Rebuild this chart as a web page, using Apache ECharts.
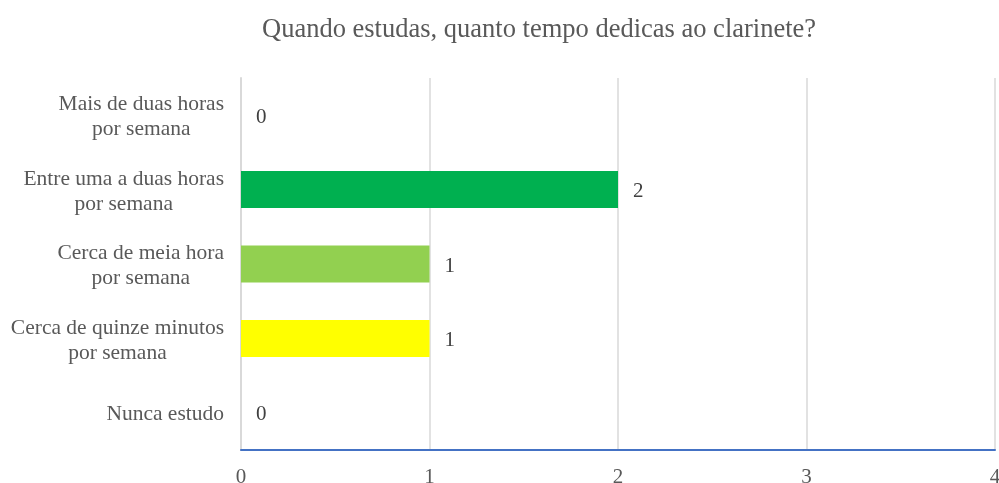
<!DOCTYPE html>
<html>
<head>
<meta charset="utf-8">
<script src="https://cdn.jsdelivr.net/npm/echarts@6/dist/echarts.min.js"></script>
<style>
  html, body { margin: 0; padding: 0; background: #fff; }
  #main { width: 999px; height: 483px; }
</style>
</head>
<body>
<div id="main"></div>
<script>
const titleText = 'Quando estudas, quanto tempo dedicas ao clarinete?'
// bottom to top, as the category axis draws them
const categories = [
  'Nunca estudo',
  'Cerca de quinze minutos\npor semana',
  'Cerca de meia hora\npor semana',
  'Entre uma a duas horas\npor semana',
  'Mais de duas horas\npor semana'
]
const counts = [0, 1, 1, 2, 0]
const barColors = ['#C00000', '#FFFF00', '#92D050', '#00B050', '#0070C0']
const xTicks = [0, 1, 2, 3, 4]

const font = '"Liberation Serif", "Times New Roman", serif'
const grey = '#595959'

const chart = echarts.init(document.getElementById('main'))
chart.setOption({
  backgroundColor: '#fff',
  animation: false,
  title: {
    text: titleText,
    left: 257,
    top: 12,
    textStyle: { fontFamily: font, fontSize: 26.5, fontWeight: 'normal', color: grey }
  },
  grid: { left: 241, right: 4, top: 78, bottom: 33, outerBoundsMode: 'none' },
  xAxis: {
    type: 'value',
    min: xTicks[0],
    max: xTicks[xTicks.length - 1],
    interval: 1,
    axisLine: { show: true, lineStyle: { color: '#4472C4', width: 2 } },
    axisTick: { show: false },
    axisLabel: { fontFamily: font, fontSize: 21, color: grey, margin: 17 },
    splitLine: { show: true, lineStyle: { color: '#D9D9D9', width: 1.5 } }
  },
  yAxis: {
    type: 'category',
    data: categories,
    axisLine: { show: true, lineStyle: { color: '#D9D9D9', width: 2 } },
    axisTick: { show: false },
    axisLabel: {
      margin: 17,
      align: 'right',
      padding: [4, 0, 0, 0],
      formatter: function (v) {
        return v.split('\n').map(function (l) { return '{c|' + l + '}' }).join('\n')
      },
      rich: {
        c: { fontFamily: font, fontSize: 21.5, color: grey, align: 'center', lineHeight: 25 }
      }
    }
  },
  series: [{
    type: 'bar',
    barWidth: 37,
    data: counts.map(function (v, i) {
      return { value: v, itemStyle: { color: barColors[i] } }
    }),
    label: {
      show: true,
      position: 'right',
      distance: 15,
      offset: [0, 2],
      fontFamily: font,
      fontSize: 21,
      color: '#404040'
    }
  }]
})
</script>
</body>
</html>
